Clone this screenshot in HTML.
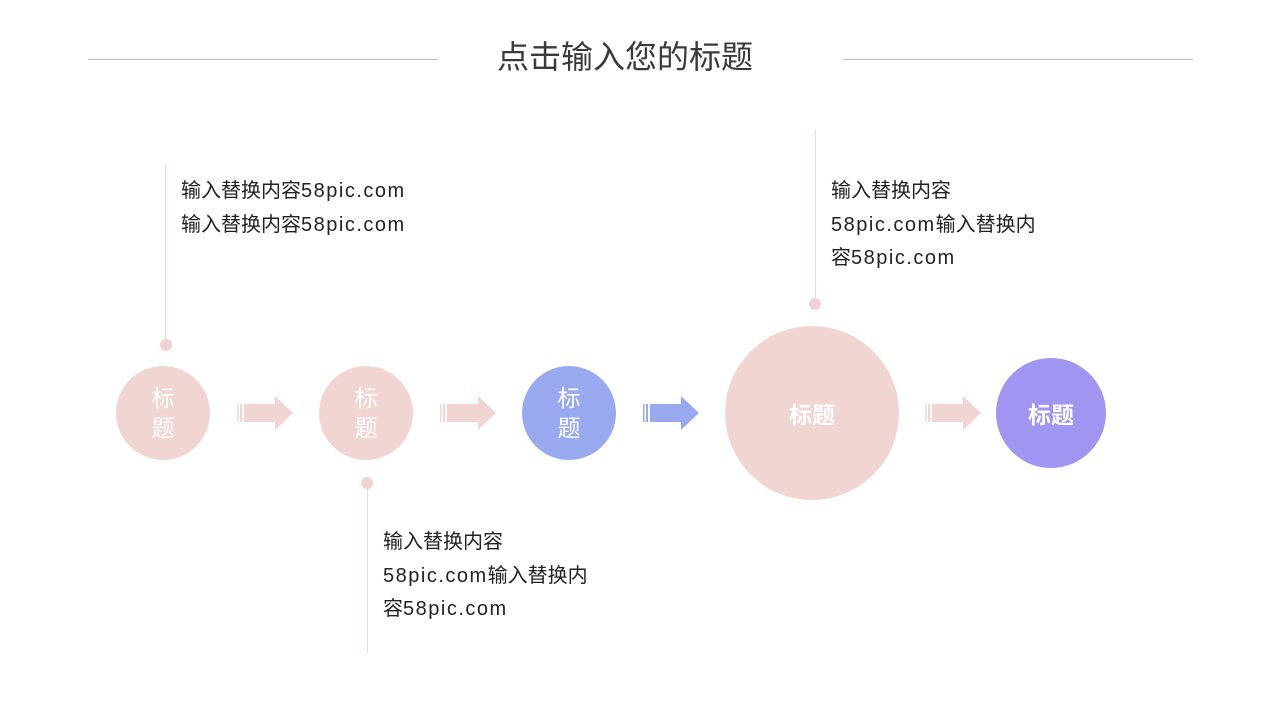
<!DOCTYPE html>
<html><head><meta charset="utf-8"><style>
body{margin:0;width:1280px;height:720px;background:#fff;position:relative;overflow:hidden;font-family:"Liberation Sans","Noto Sans CJK SC",sans-serif;}
.a{position:absolute}
.hl{position:absolute;height:1px;background:#bcbcbc;top:59px}
.vl{position:absolute;width:1px;background:#ecd8d6}
.dot{position:absolute;width:12px;height:12px;border-radius:50%;background:#efd3d1}
.c{position:absolute;border-radius:50%;display:flex;align-items:center;justify-content:center;color:#fff;text-align:center}
.sm{font-size:23px;line-height:30px}
.bg{font-size:23px;font-weight:bold}
.t{position:absolute;font-size:20px;line-height:33.5px;color:#222;white-space:nowrap}
.t span{letter-spacing:1.5px}
</style></head><body>
<div class="hl" style="left:88px;width:350px"></div>
<div class="hl" style="left:843px;width:350px"></div>
<div class="a" style="left:0;width:1250px;top:35px;text-align:center;font-size:32px;color:#3a3a3a;line-height:44px">点击输入您的标题</div>

<div class="vl" style="left:165px;top:165px;height:178px"></div>
<div class="dot" style="left:160px;top:339px"></div>
<div class="t" style="left:181px;top:175px">输入替换内容<span>58pic.com</span><br>输入替换内容<span>58pic.com</span></div>

<div class="vl" style="left:367px;top:488px;height:165px"></div>
<div class="dot" style="left:361px;top:477px"></div>
<div class="t" style="left:383px;top:526px">输入替换内容<br><span>58pic.com</span>输入替换内<br>容<span>58pic.com</span></div>

<div class="vl" style="left:815px;top:130px;height:170px"></div>
<div class="dot" style="left:809px;top:298px"></div>
<div class="t" style="left:831px;top:175px">输入替换内容<br><span>58pic.com</span>输入替换内<br>容<span>58pic.com</span></div>

<div class="c sm" style="left:116px;top:366px;width:94px;height:94px;background:#f0d5d3">标<br>题</div>
<div class="c sm" style="left:319px;top:366px;width:94px;height:94px;background:#f0d5d3">标<br>题</div>
<div class="c sm" style="left:522px;top:366px;width:94px;height:94px;background:#99a9f0">标<br>题</div>
<div class="c bg" style="left:725px;top:326px;width:174px;height:174px;background:#f0d5d3">标题</div>
<div class="c bg" style="left:996px;top:358px;width:110px;height:110px;background:#a095f0">标题</div>

<svg class="a" style="left:0;top:0" width="1280" height="720">
<defs>
<g id="ar">
<rect x="0" y="-9" width="1.5" height="18"/>
<rect x="3" y="-9" width="2" height="18"/>
<rect x="7" y="-9" width="31" height="18"/>
<polygon points="38,-17 56,0 38,17"/>
</g>
</defs>
<use href="#ar" transform="translate(237,413)" fill="#f0d5d3"/>
<use href="#ar" transform="translate(440,413)" fill="#f0d5d3"/>
<use href="#ar" transform="translate(643,413)" fill="#99a9f0"/>
<use href="#ar" transform="translate(925,413)" fill="#f0d5d3"/>
</svg>
</body></html>
